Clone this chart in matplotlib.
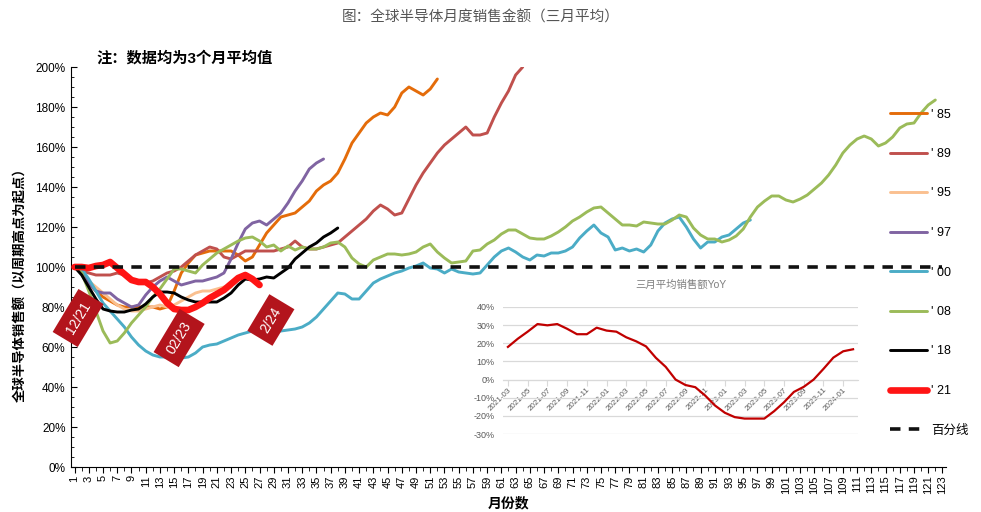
import matplotlib
matplotlib.use("Agg")
import matplotlib.pyplot as plt
from matplotlib.ticker import MultipleLocator, FixedLocator, PercentFormatter

plt.rcParams['font.family'] = ['Liberation Sans', 'Noto Sans CJK SC', 'DejaVu Sans']
plt.rcParams['axes.unicode_minus'] = False

# ---------------- data (index = months from cycle peak, % of peak) ----------------
s85 = [100, 97, 92, 88, 85, 83, 81, 80, 80, 80, 80, 80, 79, 80, 88, 97, 102, 106, 107, 108,
       108, 108, 108, 106, 103, 105, 111, 117, 121, 125, 126, 127, 130, 133, 138, 141, 143, 147,
       154, 162, 167, 172, 175, 177, 176, 180, 187, 190, 188, 186, 189, 194]
s89 = [100, 98, 97, 96, 96, 96, 97, 96, 94, 93, 92, 93, 95, 97, 98, 100, 103, 106, 108, 110,
       109, 105, 104, 106, 108, 108, 108, 108, 108, 109, 110, 113, 110, 109, 109, 110, 111, 112,
       115, 118, 121, 124, 128, 131, 129, 126, 127, 134, 141, 147, 152, 157, 161, 164, 167, 170,
       166, 166, 167, 175, 182, 188, 196, 200]
s95 = [100, 97, 93, 90, 87, 84, 81, 79, 78, 78, 79, 80, 81, 80, 81, 83, 85, 87, 88, 88, 89, 90, 90]
s97 = [100, 97, 92, 88, 87, 87, 84, 82, 80, 81, 86, 90, 93, 95, 93, 91, 92, 93, 93, 94, 95, 97,
       104, 112, 119, 122, 123, 121, 124, 127, 132, 138, 143, 149, 152, 154]
s00 = [100, 99, 94, 88, 82, 78, 74, 70, 65, 61, 58, 56, 55, 55, 55, 54.5, 55, 57, 60, 61, 61.5,
       63, 64.5, 66, 67, 68, 68.5, 68, 67, 68, 68.5, 69, 70, 72, 75, 79, 83, 87, 86.5, 84, 84, 88,
       92, 94, 95.5, 97, 98, 99.5, 100.5, 102, 99.5, 99, 97, 99, 97.5, 97, 96.5, 97, 101, 105,
       108, 109.5, 107.5, 105, 103.5, 106, 105.5, 107, 107, 108, 110, 114.5, 118, 121, 117, 115,
       108.5, 109.5, 108, 109, 107.5, 111, 118, 122, 124, 125, 120, 114, 109.5, 112.5, 112.5,
       115, 116, 119, 122, 123.5]
s08 = [100, 97, 88, 78, 68, 62, 63, 67, 72, 76, 80, 85, 89, 94, 99, 99, 98, 97, 101, 104, 107,
       109, 111, 113, 114.5, 115, 113, 110, 111, 108, 110.5, 108.5, 110, 109, 109, 110, 112,
       112.5, 110, 104.5, 101.5, 100, 103.5, 105, 106.5, 106.5, 106, 106.5, 107.5, 110, 111.5,
       107.5, 104.5, 102, 102.5, 103, 108, 108.5, 111.5, 113.5, 116.5, 118.5, 118.5, 116.5, 114.5,
       114, 114, 115.5, 117.5, 120, 123, 125, 127.5, 129.5, 130, 127, 124, 121, 121, 120.5, 122.5,
       122, 121.5, 121.5, 123.5, 126, 125, 119.5, 116, 114, 114, 112.5, 113.5, 115.5, 119, 125,
       130, 133, 135.5, 135.5, 133.5, 132.5, 134, 136, 139, 142, 146, 151, 157, 161, 164, 165.5,
       164, 160.5, 162, 165, 169.5, 171.5, 172, 177, 181, 183.5]
s18 = [100, 96, 90, 84, 79, 78, 77.5, 77.5, 78.5, 79, 81.5, 85, 87.5, 87.5, 87, 85, 83.5, 82.5,
       82.5, 82.5, 82.5, 84.5, 87, 91, 94, 93.5, 94, 95, 94.5, 97, 99.5, 104, 107, 110, 112, 115,
       117, 119.5]
s21 = [100, 100, 99.5, 100.5, 101, 102.5, 99.5, 96.5, 93.5, 92.5, 92.5, 90, 86.5, 82, 79, 78.5,
       78.5, 80, 82, 84.5, 86.5, 88.5, 91.5, 94.5, 96, 94, 91]

series_labels = ["' 85", "' 89", "' 95", "' 97", "' 00", "' 08", "' 18", "' 21"]
series_data = [s85, s89, s95, s97, s00, s08, s18, s21]
series_colors = ['#E46C0A', '#C0504D', '#FAC090', '#8064A2', '#4BACC6', '#9BBB59', '#000000', '#FF1414']
n_months = 123

# inset: YoY of 3-month average sales
yoy_months = ['2021-03', '2021-04', '2021-05', '2021-06', '2021-07', '2021-08', '2021-09',
              '2021-10', '2021-11', '2021-12', '2022-01', '2022-02', '2022-03', '2022-04',
              '2022-05', '2022-06', '2022-07', '2022-08', '2022-09', '2022-10', '2022-11',
              '2022-12', '2023-01', '2023-02', '2023-03', '2023-04', '2023-05', '2023-06',
              '2023-07', '2023-08', '2023-09', '2023-10', '2023-11', '2023-12', '2024-01', '2024-02']
yoy_values = [18, 22.5, 26.4, 30.6, 29.9, 30.6, 28, 25, 25, 28.6, 27, 26.4, 23.3, 21.1, 18.3, 12,
              7, 0, -3, -4.2, -8.8, -14.3, -18.3, -20.7, -21.5, -21.5, -21.5, -17.4, -12.5, -6.8,
              -4, 0, 5.9, 12.1, 15.6, 16.7]

# annotation boxes: (label, month, value)
marks = [('12/21', 1.5, 74.5), ('02/23', 15.7, 64.5), ('2/24', 28.6, 73.5)]

# ---------------- figure ----------------
fig = plt.figure(figsize=(9.81, 5.12), dpi=100)
ax = fig.add_axes([71/981, 1-467/512, (946-71)/981, 400/512])

lines = []
for lab, dat, col in zip(series_labels, series_data, series_colors):
    lw = 4.8 if lab == "' 21" else 2.1
    z = 4 if lab == "' 21" else 2
    ln, = ax.plot(range(1, len(dat)+1), dat, color=col, lw=lw, label=lab, zorder=z,
                  solid_capstyle='round', solid_joinstyle='round')
    lines.append(ln)
base, = ax.plot([1, n_months], [100, 100], color='#111111', lw=2.6, ls=(0, (2.9, 2.3)),
                label='百分线', zorder=5)
lines.append(base)

ax.set_xlim(0.5, n_months + 0.5)
ax.set_ylim(0, 200)
ax.xaxis.set_major_locator(FixedLocator(list(range(1, n_months+1, 2))))
ax.xaxis.set_minor_locator(MultipleLocator(1))
ax.set_xticklabels([str(m) for m in range(1, n_months+1, 2)], rotation=90, fontsize=8)
ax.yaxis.set_major_locator(MultipleLocator(20))
ax.yaxis.set_minor_locator(MultipleLocator(5))
ax.yaxis.set_major_formatter(PercentFormatter(decimals=0))
ax.tick_params(axis='y', which='both', direction='in', labelsize=8.5, pad=4)
ax.tick_params(axis='y', which='major', length=4)
ax.tick_params(axis='y', which='minor', length=2.5)
ax.tick_params(axis='x', which='major', direction='out', length=4, pad=2)
ax.tick_params(axis='x', which='minor', direction='out', length=3)
for sp in ['top', 'right']:
    ax.spines[sp].set_visible(False)
ax.set_xlabel('月份数', fontsize=10, fontweight='bold', labelpad=2)
ax.set_ylabel('全球半导体销售额（以周期高点为起点）', fontsize=9.6, fontweight='bold')
ax.yaxis.set_label_coords(-0.05, 0.4625)

for lab, mx, my in marks:
    ax.text(mx, my, lab, rotation=59, ha='center', va='center', color='white', fontsize=10,
            rotation_mode='anchor', zorder=6,
            bbox=dict(boxstyle='square,pad=0.55', fc='#B3141C', ec='none'))

fig.text(0.49, 1-17/512, '图：全球半导体月度销售金额（三月平均）', ha='center', va='center',
         fontsize=10.5, color='#555555')
fig.text(96/981, 1-58/512, '注：数据均为3个月平均值', ha='left', va='center',
         fontsize=11, fontweight='bold')

fig.legend(handles=lines, loc='upper left', bbox_to_anchor=(890/981, 1-108.5/512),
           frameon=False, fontsize=9, handlelength=2.95, handletextpad=0.35,
           labelspacing=2.2, borderpad=0, borderaxespad=0)

# ---------------- inset ----------------
axi = fig.add_axes([503/981, 1-434/512, (858-503)/981, 127/512])
axi.set_facecolor('none')
xi = list(range(len(yoy_months)))
axi.plot(xi, yoy_values, color='#C00000', lw=1.6, zorder=3)
axi.set_xlim(-0.5, len(yoy_months) - 0.5)
axi.set_ylim(-30, 40)
axi.yaxis.set_major_locator(MultipleLocator(10))
axi.yaxis.set_major_formatter(PercentFormatter(decimals=0))
axi.grid(axis='y', color='#D9D9D9', lw=0.9)
axi.set_axisbelow(True)
for sp in ['top', 'right', 'left']:
    axi.spines[sp].set_visible(False)
axi.spines['bottom'].set_position(('data', 0))
axi.spines['bottom'].set_color('#D9D9D9')
axi.set_xticks(xi[::2])
axi.set_xticklabels(yoy_months[::2], rotation=45, ha='right', va='top',
                    rotation_mode='anchor', fontsize=5.8, color='#595959')
axi.tick_params(axis='x', length=4, color='#D9D9D9', pad=1)
axi.tick_params(axis='y', length=0, labelsize=6.5, labelcolor='#595959', pad=6)
axi.set_title('三月平均销售额YoY', fontsize=7.5, color='#7F7F7F', pad=14)

fig.savefig('out.png', dpi=100)
